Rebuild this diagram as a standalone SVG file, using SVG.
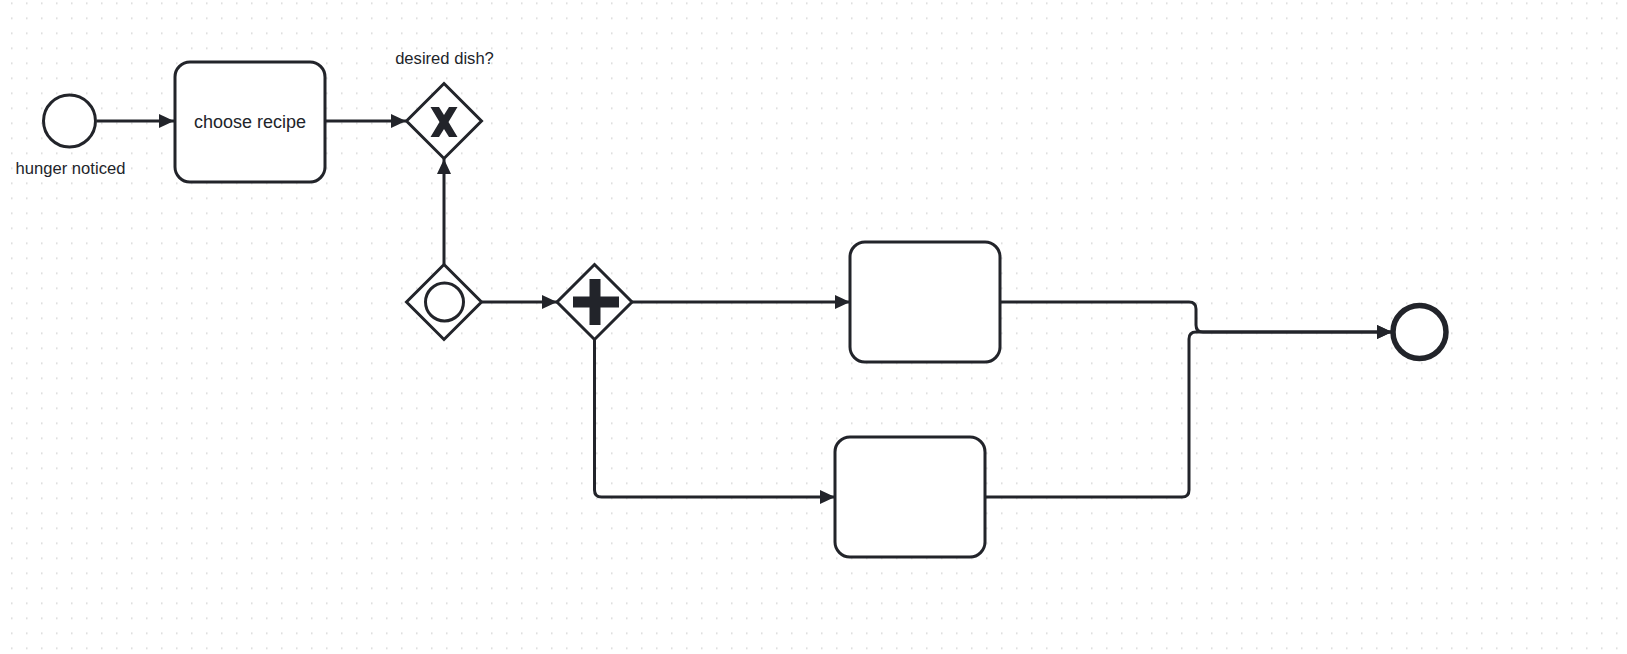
<svg xmlns="http://www.w3.org/2000/svg" width="1627" height="654" viewBox="0 0 1627 654">
  <style>
    .shape { fill: #ffffff; stroke: #22242a; stroke-width: 3; }
    .end { fill: #ffffff; stroke: #22242a; stroke-width: 5.5; }
    .conn { fill: none; stroke: #22242a; stroke-width: 3; stroke-linejoin: round; marker-end: url(#arrow); }
    .label { font-family: "Liberation Sans", Arial, sans-serif; font-size: 16.6px; fill: #22242a; text-anchor: middle; }
    .tlabel { font-family: "Liberation Sans", Arial, sans-serif; font-size: 18px; fill: #22242a; text-anchor: middle; }
    .mark { fill: #22242a; stroke: none; }
  </style>
  <defs>
    <pattern id="grid" x="11" y="2.5" width="15" height="15" patternUnits="userSpaceOnUse">
      <rect x="0" y="0" width="1.5" height="1.5" fill="#d4d4d4"/>
    </pattern>
    <marker id="arrow" markerUnits="userSpaceOnUse" markerWidth="16" markerHeight="15" refX="15" refY="7" orient="auto">
      <path d="M0,0 L15,7 L0,14 z" fill="#22242a"/>
    </marker>
  </defs>
  <rect x="0" y="0" width="1627" height="654" fill="#ffffff"/>
  <rect x="0" y="0" width="1627" height="654" fill="url(#grid)"/>

  <g id="connectors">
    <path class="conn" d="M97,121 H174"/>
    <path class="conn" d="M325,121 H406"/>
    <path class="conn" d="M444,264 V159"/>
    <path class="conn" d="M482,302 H557"/>
    <path class="conn" d="M632,302 H850"/>
    <path class="conn" d="M594.5,339.5 V490 Q594.5,497 601.5,497 H835"/>
    <path class="conn" d="M1000,302 H1189 Q1196,302 1196,309 V325 Q1196,332 1203,332 H1392"/>
    <path class="conn" d="M985,497 H1182 Q1189,497 1189,490 V339 Q1189,332 1196,332 H1392"/>
  </g>

  <g id="start-event">
    <circle class="shape" cx="69.5" cy="121" r="26"/>
    <text class="label" x="70.5" y="174">hunger noticed</text>
  </g>

  <g id="task-choose-recipe">
    <rect class="shape" x="175" y="62" width="150" height="120" rx="15" ry="15"/>
    <text class="tlabel" x="250" y="127.5">choose recipe</text>
  </g>

  <g id="gateway-desired-dish">
    <polygon class="shape" points="444,83.5 481.5,121 444,158.5 406.5,121"/>
    <path class="mark" d="M430.5,107 H439 L444,115 L449,107 H457.5 L448.5,122 L457.5,137 H449 L444,129 L439,137 H430.5 L439.5,122 z"/>
    <text class="label" x="444.5" y="63.5">desired dish?</text>
  </g>

  <g id="event-gateway">
    <polygon class="shape" points="444,264.5 481.5,302 444,339.5 406.5,302"/>
    <circle class="shape" cx="444.5" cy="302" r="19"/>
  </g>

  <g id="parallel-gateway">
    <polygon class="shape" points="594.5,264.5 632,302 594.5,339.5 557,302"/>
    <rect class="mark" x="573" y="296.5" width="46" height="11"/>
    <rect class="mark" x="589.5" y="279" width="11" height="46"/>
  </g>

  <g id="task-upper">
    <rect class="shape" x="850" y="242" width="150" height="120" rx="15" ry="15"/>
  </g>

  <g id="task-lower">
    <rect class="shape" x="835" y="437" width="150" height="120" rx="15" ry="15"/>
  </g>

  <g id="end-event">
    <circle class="end" cx="1419.5" cy="332" r="26.5"/>
  </g>
</svg>
